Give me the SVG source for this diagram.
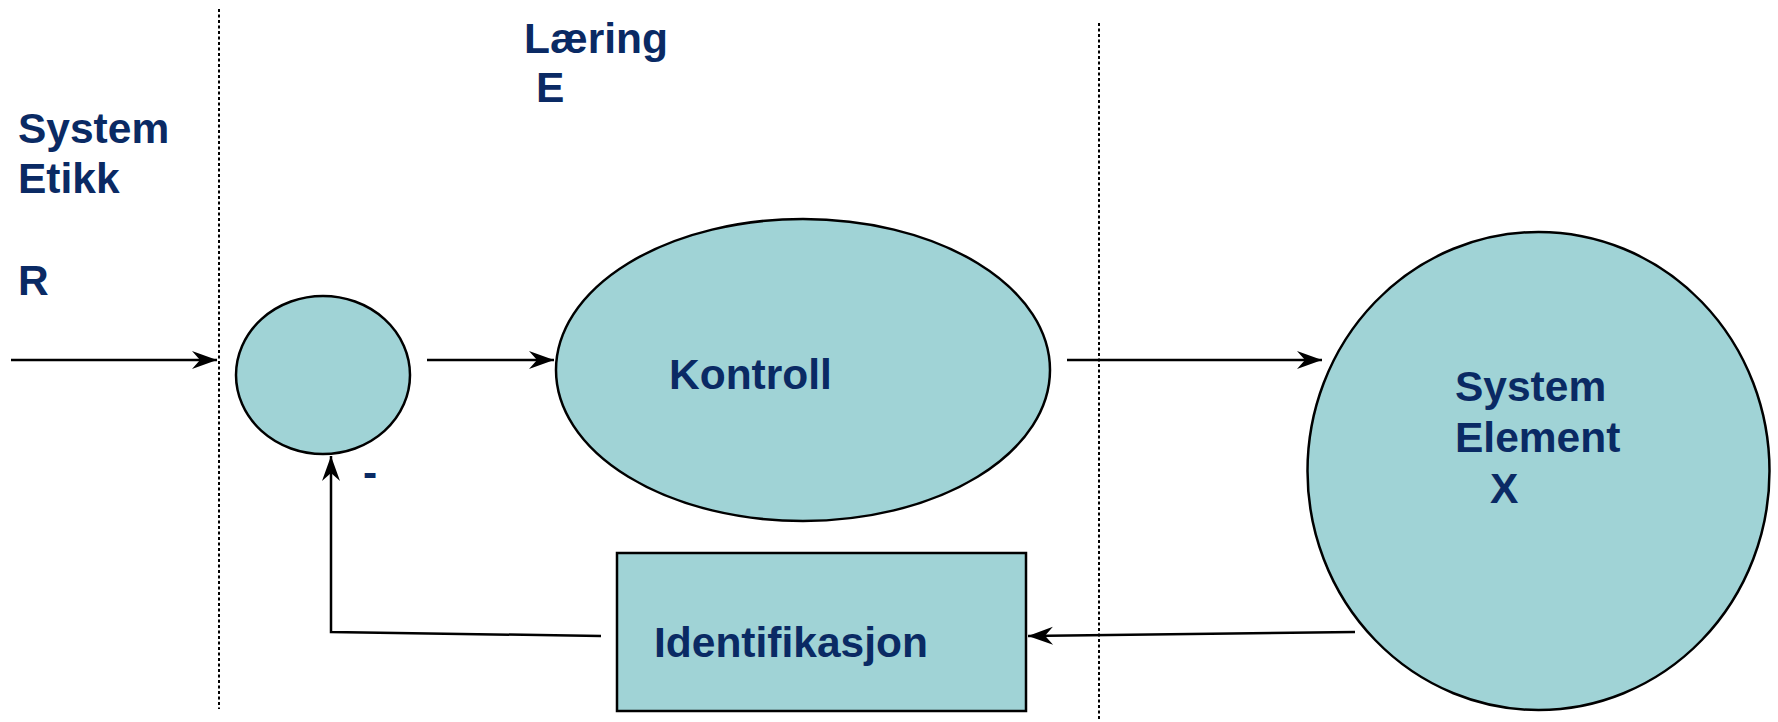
<svg xmlns="http://www.w3.org/2000/svg" width="1778" height="722" viewBox="0 0 1778 722">
  <style>
    .shape { fill: #a0d3d6; stroke: #000; stroke-width: 2.5; }
    .lbl { font-family: "Liberation Sans", Arial, sans-serif; font-weight: bold; font-size: 42.5px; fill: #0a2a64; }
    .wire { fill: none; stroke: #000; stroke-width: 2.5; }
    .sep { fill: none; stroke: #000; stroke-width: 2; stroke-dasharray: 3 2.5; }
  </style>
  <defs>
    <marker id="arrow" markerUnits="userSpaceOnUse" markerWidth="30" markerHeight="20" viewBox="-26 -10 28 20" refX="0" refY="0" orient="auto">
      <path d="M0,0 L-25,-9 L-17,0 L-25,9 Z" fill="#000"/>
    </marker>
  </defs>
  <rect width="1778" height="722" fill="#fff"/>

  <!-- zone separators -->
  <g id="separators">
    <line class="sep" x1="219" y1="9" x2="219" y2="709"/>
    <line class="sep" x1="1099" y1="23" x2="1099" y2="720"/>
  </g>

  <!-- free labels -->
  <g id="labels">
    <text class="lbl" x="18" y="143">System</text>
    <text class="lbl" x="18" y="193">Etikk</text>
    <text class="lbl" x="18" y="295">R</text>
    <text class="lbl" x="524" y="53">Læring</text>
    <text class="lbl" x="536" y="102">E</text>
    <text class="lbl" x="363" y="487">-</text>
  </g>

  <!-- connectors -->
  <g id="connectors">
    <line class="wire" x1="11" y1="360" x2="217" y2="360" marker-end="url(#arrow)"/>
    <line class="wire" x1="427" y1="360" x2="554" y2="360" marker-end="url(#arrow)"/>
    <line class="wire" x1="1067" y1="360" x2="1322" y2="360" marker-end="url(#arrow)"/>
    <line class="wire" x1="1355" y1="632" x2="1028" y2="636" marker-end="url(#arrow)"/>
    <polyline class="wire" points="601,636 331,632 331,456" marker-end="url(#arrow)"/>
  </g>

  <g id="comparator">
    <ellipse class="shape" cx="323" cy="375" rx="87" ry="79"/>
  </g>

  <g id="kontroll">
    <ellipse class="shape" cx="803" cy="370" rx="247" ry="151"/>
    <text class="lbl" x="669" y="389">Kontroll</text>
  </g>

  <g id="system-element">
    <ellipse class="shape" cx="1538.5" cy="471" rx="231" ry="239"/>
    <text class="lbl" x="1455" y="401">System</text>
    <text class="lbl" x="1455" y="452">Element</text>
    <text class="lbl" x="1490" y="503">X</text>
  </g>

  <g id="identifikasjon">
    <rect class="shape" x="617" y="553" width="409" height="158"/>
    <text class="lbl" x="654" y="657">Identifikasjon</text>
  </g>
</svg>
